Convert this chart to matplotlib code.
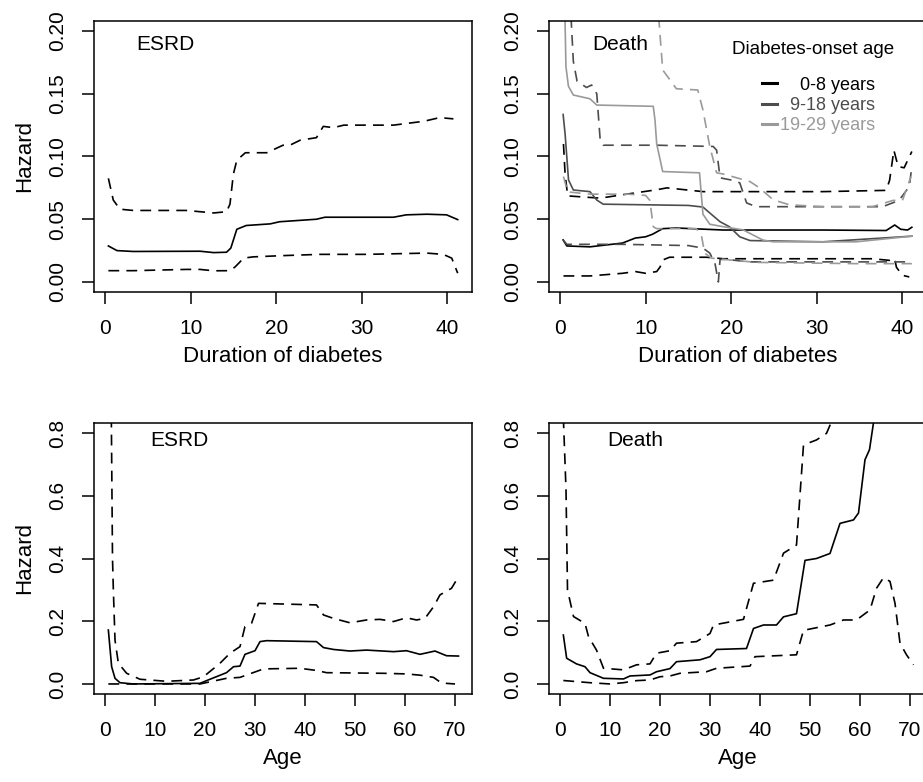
import matplotlib
matplotlib.use('Agg')
import matplotlib.pyplot as plt
from matplotlib.lines import Line2D

plt.rcParams['font.family'] = ['Liberation Sans', 'DejaVu Sans']

# ---- top left: ESRD hazard by duration of diabetes ----
esrd_dur_t = [0.4, 1.4, 3.3, 11.1, 12.7, 14.2, 14.7, 15.4, 16.5, 19.3, 20.4, 24.7, 25.7, 28.6, 33.7, 35.2, 37.6, 39.9, 41.2]
esrd_dur_est = [0.0287, 0.025, 0.0243, 0.0245, 0.0234, 0.0237, 0.027, 0.042, 0.045, 0.0463, 0.048, 0.050, 0.0516, 0.0516, 0.0516, 0.0535, 0.054, 0.0535, 0.0497]
esrd_dur_up_t = [0.4, 0.97, 1.75, 3.3, 9.5, 12.7, 14.2, 14.6, 15.0, 15.4, 16.4, 18.9, 20.8, 21.6, 22.8, 24.7, 25.5, 26.7, 27.9, 33.7, 36.0, 37.2, 39.1, 40.7]
esrd_dur_up = [0.0826, 0.0653, 0.058, 0.057, 0.057, 0.055, 0.056, 0.062, 0.086, 0.097, 0.103, 0.103, 0.109, 0.109, 0.113, 0.115, 0.124, 0.123, 0.125, 0.125, 0.127, 0.128, 0.131, 0.130]
esrd_dur_lo_t = [0.4, 3.3, 9.5, 11.1, 12.7, 14.6, 15.2, 16.2, 17.3, 20.8, 25.1, 30.5, 37.6, 39.5, 40.5, 41.2]
esrd_dur_lo = [0.009, 0.009, 0.010, 0.010, 0.0089, 0.009, 0.012, 0.019, 0.020, 0.021, 0.022, 0.022, 0.023, 0.022, 0.019, 0.007]

# ---- top right: death hazard by duration, three onset-age groups ----
onset_groups = ['0-8 years', '9-18 years', '19-29 years']
group_colors = ['#000000', '#4d4d4d', '#9a9a9a']

g0_t = [0.37, 0.8, 3.5, 7.3, 8.8, 10.0, 10.8, 12.0, 13.6, 19.1, 30.7, 38.1, 39.1, 39.8, 40.6, 41.1]
g0_est = [0.0335, 0.0287, 0.028, 0.031, 0.035, 0.036, 0.038, 0.0425, 0.043, 0.0414, 0.0414, 0.041, 0.0454, 0.042, 0.0414, 0.0436]
g0_up_t = [0.41, 0.6, 0.9, 4.7, 7.3, 11.3, 12.5, 16.7, 30.7, 38.1, 38.5, 39.0, 39.5, 40.2, 41.1]
g0_up = [0.110, 0.086, 0.0686, 0.0668, 0.0695, 0.0735, 0.075, 0.072, 0.072, 0.073, 0.081, 0.105, 0.092, 0.091, 0.104]
g0_lo_t = [0.41, 3.5, 7.3, 8.8, 10.0, 11.3, 11.7, 12.0, 12.8, 17.1, 19.1, 36.5, 38.5, 39.1, 39.3, 40.0, 40.8]
g0_lo = [0.0048, 0.0048, 0.0069, 0.0083, 0.0069, 0.0083, 0.012, 0.0175, 0.0197, 0.0197, 0.0185, 0.0185, 0.0172, 0.0185, 0.0117, 0.0053, 0.004]

g1_t = [0.37, 0.6, 1.0, 1.56, 3.5, 4.3, 5.05, 15.0, 16.7, 17.6, 18.7, 19.8, 21.0, 22.2, 30.7, 41.1]
g1_est = [0.1335, 0.118, 0.0813, 0.0733, 0.072, 0.0653, 0.062, 0.061, 0.0597, 0.0544, 0.048, 0.044, 0.036, 0.033, 0.032, 0.0365]
g1_up_t = [1.0, 1.56, 2.0, 3.1, 3.7, 4.3, 4.7, 5.05, 11.3, 17.9, 18.3, 18.7, 20.2, 21.0, 21.8, 22.9, 37.7, 39.6, 40.8, 41.1]
g1_up = [0.25, 0.176, 0.160, 0.155, 0.157, 0.150, 0.113, 0.109, 0.109, 0.108, 0.105, 0.083, 0.081, 0.079, 0.063, 0.060, 0.060, 0.065, 0.076, 0.092]
g1_lo_t = [0.37, 0.8, 7.3, 15.0, 16.7, 17.5, 18.1, 18.5, 18.7, 19.5, 22.0, 39.0, 41.1]
g1_lo = [0.0335, 0.030, 0.030, 0.029, 0.027, 0.023, 0.015, 0.0, 0.018, 0.018, 0.016, 0.016, 0.016]

g2_t = [0.47, 0.7, 0.99, 1.56, 3.5, 4.3, 10.9, 11.1, 11.3, 12.0, 16.3, 16.7, 17.5, 19.1, 21.4, 23.7, 24.9, 34.6, 41.1]
g2_est = [0.25, 0.1716, 0.156, 0.149, 0.146, 0.141, 0.140, 0.129, 0.110, 0.088, 0.087, 0.054, 0.046, 0.044, 0.0415, 0.0334, 0.032, 0.032, 0.0365]
g2_up_t = [11.1, 12.0, 13.6, 16.1, 16.7, 17.5, 18.3, 19.1, 22.2, 23.3, 24.9, 26.8, 30.7, 36.5, 38.9, 40.0, 41.0]
g2_up = [0.25, 0.169, 0.154, 0.153, 0.137, 0.108, 0.087, 0.086, 0.080, 0.075, 0.0655, 0.0615, 0.060, 0.060, 0.065, 0.065, 0.084]
g2_lo_t = [0.41, 0.9, 3.5, 8.0, 10.0, 10.5, 10.9, 11.3, 15.9, 16.5, 16.9, 17.7, 19.1, 23.0, 34.6, 41.1]
g2_lo = [0.084, 0.0718, 0.070, 0.070, 0.069, 0.065, 0.044, 0.0425, 0.0425, 0.038, 0.023, 0.019, 0.018, 0.0156, 0.0146, 0.0146]

# ---- bottom left: ESRD hazard by age ----
esrd_age_t = [0.67, 1.33, 2.0, 3.0, 5.67, 19.0, 20.3, 24.3, 25.7, 27.0, 28.0, 30.0, 31.0, 32.3, 42.3, 43.7, 45.7, 49.0, 52.3, 57.7, 60.3, 63.0, 66.0, 68.3, 70.7]
esrd_age_est = [0.172, 0.055, 0.018, 0.004, 0.0, 0.002, 0.0106, 0.036, 0.055, 0.057, 0.0945, 0.106, 0.135, 0.138, 0.135, 0.116, 0.110, 0.105, 0.108, 0.103, 0.106, 0.0945, 0.105, 0.090, 0.089]
esrd_age_up_t = [0.67, 1.5, 1.67, 2.0, 2.67, 4.33, 7.0, 12.3, 17.7, 19.7, 23.0, 25.0, 27.0, 28.0, 29.3, 30.7, 42.3, 43.7, 45.7, 49.0, 52.3, 55.0, 57.7, 60.3, 62.3, 64.0, 65.7, 67.0, 69.3, 70.7]
esrd_age_up = [2.0, 0.40, 0.30, 0.14, 0.066, 0.034, 0.015, 0.0085, 0.0127, 0.023, 0.066, 0.098, 0.119, 0.183, 0.193, 0.257, 0.252, 0.22, 0.209, 0.195, 0.204, 0.206, 0.199, 0.211, 0.204, 0.209, 0.246, 0.284, 0.305, 0.342]
esrd_age_lo_t = [0.67, 19.0, 24.3, 27.0, 31.7, 39.0, 42.3, 44.3, 55.7, 60.3, 63.0, 65.7, 67.3, 70.0]
esrd_age_lo = [0.0, 0.0, 0.018, 0.021, 0.048, 0.050, 0.043, 0.036, 0.034, 0.032, 0.028, 0.021, 0.003, 0.0]

# ---- bottom right: death hazard by age ----
death_age_t = [0.67, 1.33, 3.3, 5.0, 6.0, 8.7, 12.7, 14.0, 18.0, 19.3, 22.0, 23.3, 28.0, 30.0, 31.3, 37.3, 38.7, 40.7, 43.3, 44.7, 47.3, 49.0, 51.3, 54.0, 56.0, 58.7, 59.7, 61.0, 61.9, 62.7, 64.0]
death_age_est = [0.156, 0.082, 0.064, 0.055, 0.036, 0.018, 0.016, 0.0255, 0.0287, 0.039, 0.049, 0.071, 0.077, 0.087, 0.110, 0.113, 0.177, 0.188, 0.188, 0.214, 0.224, 0.394, 0.400, 0.416, 0.512, 0.523, 0.545, 0.715, 0.747, 0.833, 0.95]
death_age_up_t = [0.67, 1.2, 1.5, 2.7, 5.0, 5.7, 7.3, 8.7, 12.7, 15.3, 18.0, 19.3, 22.0, 23.3, 27.3, 30.0, 30.7, 36.7, 38.7, 42.7, 44.7, 47.3, 48.7, 51.3, 53.3, 54.3, 55.5]
death_age_up = [0.85, 0.62, 0.30, 0.215, 0.193, 0.151, 0.108, 0.050, 0.045, 0.061, 0.064, 0.098, 0.106, 0.130, 0.135, 0.161, 0.188, 0.206, 0.321, 0.331, 0.417, 0.443, 0.762, 0.778, 0.799, 0.836, 0.95]
death_age_lo_t = [0.67, 6.0, 10.0, 12.7, 15.3, 18.0, 20.0, 22.0, 24.0, 29.3, 31.3, 38.0, 39.0, 47.3, 48.7, 54.0, 56.7, 59.3, 62.0, 63.3, 64.7, 66.0, 67.0, 68.0, 69.3, 70.7]
death_age_lo = [0.011, 0.004, 0.0, 0.004, 0.0106, 0.0127, 0.023, 0.0255, 0.034, 0.039, 0.050, 0.057, 0.087, 0.093, 0.171, 0.188, 0.204, 0.204, 0.236, 0.305, 0.339, 0.327, 0.257, 0.130, 0.093, 0.061]

# tick labels
dur_ticks = [0, 10, 20, 30, 40]
top_yticks = [0.0, 0.05, 0.10, 0.15, 0.20]
top_ylabels = ['0.00', '0.05', '0.10', '0.15', '0.20']
age_ticks = [0, 10, 20, 30, 40, 50, 60, 70]
bot_yticks = [0.0, 0.2, 0.4, 0.6, 0.8]
bot_ylabels = ['0.0', '0.2', '0.4', '0.6', '0.8']

LW = 1.2
DASH = (0, (6.5, 4.3))

fig = plt.figure(figsize=(9.23, 7.82), dpi=100)
w, h = 378 / 923, 271 / 782
ax1 = fig.add_axes([94 / 923, 1 - 292 / 782, w, h])
ax2 = fig.add_axes([549 / 923, 1 - 292 / 782, w, h])
ax3 = fig.add_axes([94 / 923, 1 - 694 / 782, w, h])
ax4 = fig.add_axes([549 / 923, 1 - 694 / 782, w, h])

# top left
ax1.plot(esrd_dur_t, esrd_dur_est, color='black', lw=LW)
ax1.plot(esrd_dur_up_t, esrd_dur_up, color='black', lw=LW, ls=DASH)
ax1.plot(esrd_dur_lo_t, esrd_dur_lo, color='black', lw=LW, ls=DASH)

# top right
curves = [(g0_t, g0_est, g0_up_t, g0_up, g0_lo_t, g0_lo),
          (g1_t, g1_est, g1_up_t, g1_up, g1_lo_t, g1_lo),
          (g2_t, g2_est, g2_up_t, g2_up, g2_lo_t, g2_lo)]
for (t, est, ut, up, lt, lo), col in zip(curves, group_colors):
    ax2.plot(t, est, color=col, lw=LW)
    ax2.plot(ut, up, color=col, lw=LW, ls=DASH)
    ax2.plot(lt, lo, color=col, lw=LW, ls=DASH)

# bottom left
ax3.plot(esrd_age_t, esrd_age_est, color='black', lw=LW)
ax3.plot(esrd_age_up_t, esrd_age_up, color='black', lw=LW, ls=DASH)
ax3.plot(esrd_age_lo_t, esrd_age_lo, color='black', lw=LW, ls=DASH)

# bottom right
ax4.plot(death_age_t, death_age_est, color='black', lw=LW)
ax4.plot(death_age_up_t, death_age_up, color='black', lw=LW, ls=DASH)
ax4.plot(death_age_lo_t, death_age_lo, color='black', lw=LW, ls=DASH)

for ax in [ax1, ax2]:
    ax.set_xlim(-1.28, 42.87)
    ax.set_ylim(-0.008, 0.208)
    ax.set_xticks(dur_ticks)
    ax.set_yticks(top_yticks, top_ylabels)
    ax.set_xlabel('Duration of diabetes', fontsize=16, labelpad=6)
for ax in [ax3, ax4]:
    ax.set_xlim(-2.2, 73.4)
    ax.set_ylim(-0.032, 0.832)
    ax.set_xticks(age_ticks)
    ax.set_yticks(bot_yticks, bot_ylabels)
    ax.set_xlabel('Age', fontsize=16, labelpad=6)
ax1.set_ylabel('Hazard', fontsize=16, labelpad=9.5)
ax3.set_ylabel('Hazard', fontsize=16, labelpad=9.5)

for ax in [ax1, ax2, ax3, ax4]:
    ax.tick_params(direction='out', length=8.6, width=1.1, labelsize=15, pad=10.5)
    ax.tick_params(axis='y', labelrotation=90)
    for lab in ax.get_yticklabels():
        lab.set_va('center')
    for s in ax.spines.values():
        s.set_linewidth(1.1)

ax1.text(0.111, 0.915, 'ESRD', transform=ax1.transAxes, fontsize=15, va='center')
ax2.text(0.114, 0.915, 'Death', transform=ax2.transAxes, fontsize=15, va='center')
ax3.text(0.148, 0.937, 'ESRD', transform=ax3.transAxes, fontsize=15, va='center')
ax4.text(0.153, 0.937, 'Death', transform=ax4.transAxes, fontsize=15, va='center')

# legend for onset-age groups
ax2.text(0.698, 0.893, 'Diabetes-onset age', transform=ax2.transAxes, fontsize=13.5,
         ha='center', va='center')
handles = [Line2D([], [], color=c, lw=2.2) for c in group_colors]
labels = [g.rjust(11, '\u2007') for g in onset_groups]
ax2.legend(handles, labels, loc='upper left', bbox_to_anchor=(0.563, 0.795),
           frameon=False, fontsize=13, labelcolor=group_colors, handlelength=0.85,
           handletextpad=0.15, labelspacing=0.19, borderpad=0, borderaxespad=0)

fig.savefig('out.png', dpi=100)
